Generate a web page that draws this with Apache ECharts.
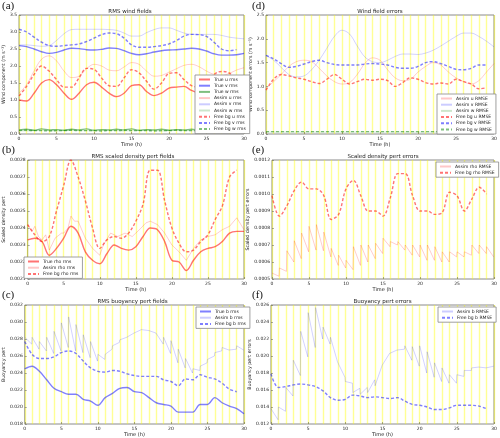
<!DOCTYPE html>
<html><head><meta charset="utf-8">
<script src="https://cdn.jsdelivr.net/npm/echarts@6/dist/echarts.min.js"></script>
<style>html,body{margin:0;padding:0;background:#fff}#c{width:500px;height:438px}</style>
</head><body><div id="c"></div><script>
// ---------- time axes ----------
const hours31 = [0,1,2,3,4,5,6,7,8,9,10,11,12,13,14,15,16,17,18,19,20,21,22,23,24,25,26,27,28,29,30];
const hours30 = [0,1,2,3,4,5,6,7,8,9,10,11,12,13,14,15,16,17,18,19,20,21,22,23,24,25,26,27,28,29];

// ---------- (a) RMS wind fields ----------
const trueU = [1.0,0.97,1.2,1.5,1.6,1.45,1.2,1.02,1.2,1.45,1.52,1.38,1.2,1.1,1.2,1.42,1.45,1.25,1.13,1.2,1.35,1.38,1.4,1.28,1.2,1.18,1.25,1.32,1.3,1.25,1.2];
const trueV = [2.6,2.57,2.5,2.42,2.37,2.4,2.47,2.52,2.51,2.48,2.47,2.49,2.53,2.52,2.45,2.37,2.33,2.36,2.41,2.45,2.47,2.48,2.5,2.52,2.5,2.44,2.36,2.32,2.32,2.33,2.37];
const trueW = [0.12,0.14,0.11,0.15,0.12,0.13,0.11,0.14,0.12,0.15,0.11,0.13,0.12,0.14,0.12,0.15,0.11,0.13,0.12,0.14,0.11,0.13,0.12,0.14,0.12,0.13,0.11,0.14,0.12,0.13,0.12];
const assimU = [1.2,1.45,1.85,2.2,2.3,2.15,1.85,1.66,1.7,1.92,2.05,2.0,1.88,1.86,1.97,2.1,2.05,1.85,1.7,1.72,1.82,1.92,2.02,2.05,1.98,1.85,1.75,1.72,1.78,1.88,1.95];
const assimV = [2.62,2.62,2.6,2.58,2.6,2.75,2.95,3.07,3.08,3.08,3.08,3.08,3.07,3.05,2.97,2.88,2.88,2.98,3.07,3.12,3.12,3.05,2.97,2.93,2.93,2.93,2.93,2.9,2.85,2.82,2.8];
const assimW = [0.1,0.09,0.1,0.11,0.1,0.09,0.1,0.11,0.1,0.1,0.09,0.1,0.11,0.1,0.09,0.1,0.1,0.11,0.1,0.09,0.1,0.11,0.1,0.1,0.09,0.1,0.11,0.1,0.1,0.09,0.1];
const freeU = [1.12,1.4,1.75,2.0,1.85,1.6,1.38,1.38,1.65,1.93,1.9,1.65,1.42,1.4,1.65,1.89,1.8,1.55,1.32,1.5,1.78,1.8,1.6,1.42,1.38,1.5,1.75,1.84,1.8,1.6];
const freeV = [3.08,3.0,2.85,2.7,2.6,2.58,2.6,2.62,2.65,2.72,2.82,2.92,2.97,2.95,2.82,2.62,2.55,2.55,2.57,2.6,2.65,2.75,2.88,2.93,2.92,2.87,2.7,2.5,2.45,2.48];
const freeW = [0.1,0.11,0.1,0.1,0.09,0.1,0.1,0.11,0.1,0.1,0.1,0.09,0.1,0.1,0.11,0.1,0.1,0.1,0.09,0.1,0.1,0.11,0.1,0.1,0.1,0.09,0.1,0.1,0.11,0.1];

// ---------- (d) Wind field errors ----------
const assimUErr = [0.95,1.1,1.25,1.42,1.52,1.55,1.52,1.38,1.22,1.1,1.05,1.08,1.25,1.48,1.6,1.55,1.35,1.18,1.12,1.15,1.3,1.42,1.5,1.45,1.3,1.18,1.1,1.05,1.12,1.3,1.48];
const assimVErr = [1.65,1.55,1.4,1.25,1.2,1.22,1.35,1.55,1.8,2.05,2.18,2.1,1.85,1.62,1.52,1.5,1.55,1.63,1.68,1.68,1.67,1.7,1.76,1.85,1.95,2.05,2.12,2.12,2.05,1.95,1.83];
const assimWErr = [0.04,0.04,0.04,0.04,0.04,0.04,0.04,0.04,0.04,0.04,0.04,0.04,0.04,0.04,0.04,0.04,0.04,0.04,0.04,0.04,0.04,0.04,0.04,0.04,0.04,0.04,0.04,0.04,0.04,0.04,0.04];
const freeUErr = [0.92,1.15,1.25,1.22,1.18,1.15,1.1,1.06,1.15,1.25,1.15,1.05,1.1,1.15,1.13,1.15,1.12,1.0,1.08,1.18,1.15,1.08,1.05,1.07,1.05,1.15,1.1,1.05,0.95,0.97];
const freeVErr = [1.65,1.58,1.48,1.4,1.42,1.47,1.52,1.55,1.5,1.46,1.45,1.45,1.45,1.47,1.48,1.47,1.45,1.4,1.38,1.38,1.42,1.5,1.52,1.48,1.42,1.36,1.35,1.38,1.45,1.45];
const freeWErr = [0.05,0.05,0.05,0.05,0.05,0.05,0.05,0.05,0.05,0.05,0.05,0.05,0.05,0.05,0.05,0.05,0.05,0.05,0.05,0.05,0.05,0.05,0.05,0.05,0.05,0.05,0.05,0.05,0.05,0.05];

// ---------- (b) RMS scaled density pert fields ----------
const trueRho = [0.00233,0.00234,0.00232,0.00224,0.00228,0.00234,0.00241,0.00237,0.00226,0.00221,0.00219,0.00225,0.0023,0.00228,0.00227,0.00229,0.00235,0.0024,0.00239,0.00232,0.00221,0.0022,0.00215,0.00221,0.00226,0.00228,0.00229,0.00232,0.00237,0.00238,0.00238];
const assimRhoT = [0,0.6,1,1.5,2,2.5,3,3.8,4.7,5,5.6,6,6.5,7,8,9,10,10.5,11.5,12.5,13.5,14.5,15.5,16.4,17,18,19,20,21,22,23,24,25,26,27,28,29,30];
const assimRhoV = [0.00242,0.00238,0.00241,0.00235,0.00233,0.00236,0.00227,0.00234,0.00237,0.00237,0.0024,0.00247,0.00244,0.00244,0.00234,0.00228,0.00224,0.0023,0.00237,0.00235,0.00237,0.00235,0.00239,0.00243,0.00244,0.00242,0.00237,0.0023,0.00226,0.00221,0.00228,0.00233,0.00235,0.00236,0.00239,0.00241,0.00246,0.00239];
const freeRho = [0.00242,0.00236,0.00232,0.00235,0.0025,0.00265,0.0028,0.0027,0.00256,0.0024,0.00228,0.00233,0.00235,0.00234,0.00237,0.00244,0.00254,0.00274,0.00274,0.00256,0.0024,0.00231,0.00226,0.00227,0.00232,0.00236,0.00245,0.00253,0.0027,0.00274];

// ---------- (e) Scaled density pert errors ----------
const assimRhoErrPeak = [0.000535,0.000565,0.000666,0.000725,0.00077,0.00081,0.00082,0.000776,0.00068,0.00064,0.00061,0.00069,0.0007,0.0007,0.00071,0.00074,0.00072,0.00072,0.0007,0.0007,0.0007,0.0007,0.00069,0.00066,0.00066,0.00066,0.00066,0.0007,0.0007,0.00069];
const assimRhoErrTrough = [0.000516,0.000545,0.0006,0.00062,0.00066,0.00067,0.000666,0.00063,0.00058,0.000565,0.000555,0.00058,0.0006,0.00062,0.00065,0.00069,0.0007,0.00067,0.00064,0.00063,0.00061,0.00061,0.0006,0.0006,0.00063,0.00063,0.00064,0.00065,0.00065,0.00063];
const freeRhoErr = [0.00099,0.00087,0.00093,0.00102,0.00107,0.00103,0.00103,0.00099,0.00085,0.00088,0.00103,0.00108,0.00099,0.0009,0.0009,0.00087,0.00098,0.00112,0.00112,0.00099,0.0009,0.0009,0.00088,0.00089,0.00101,0.00099,0.0009,0.00097,0.00104,0.001];

// ---------- (c) RMS buoyancy pert fields ----------
const trueB = [0.0245,0.0248,0.0242,0.0232,0.0222,0.0218,0.0215,0.0215,0.0209,0.0207,0.0202,0.0211,0.0216,0.0222,0.0223,0.0218,0.0217,0.0211,0.0205,0.0203,0.0201,0.0194,0.0194,0.0194,0.0203,0.0203,0.0211,0.0205,0.0201,0.0198,0.0192];
const assimBPeak = [0.0282,0.0282,0.0277,0.0282,0.0289,0.0299,0.0306,0.0297,0.0285,0.0277,0.0262,0.0262,0.0272,0.0279,0.0284,0.0289,0.0292,0.029,0.0288,0.0282,0.0278,0.0268,0.0257,0.0245,0.0248,0.0256,0.0264,0.027,0.0269,0.0272];
const assimBTrough = [0.0274,0.0268,0.0266,0.0263,0.0266,0.027,0.0266,0.0264,0.0258,0.0254,0.0256,0.0268,0.0276,0.0282,0.0287,0.0291,0.029,0.0287,0.0274,0.0263,0.0252,0.0246,0.024,0.0243,0.0252,0.026,0.0266,0.0267,0.0268,0.0267];
const freeB = [0.0277,0.0262,0.0257,0.0257,0.0259,0.0264,0.0266,0.0263,0.0254,0.0246,0.0242,0.0241,0.0243,0.0242,0.0239,0.0237,0.0236,0.0236,0.0236,0.0232,0.023,0.0225,0.0233,0.0232,0.0238,0.0235,0.0233,0.0228,0.0221,0.0218];

// ---------- (f) Buoyancy pert errors ----------
const assimBErrPeak = [0.0138,0.014,0.0163,0.0195,0.0229,0.0251,0.0257,0.0234,0.0222,0.0195,0.017,0.0157,0.0155,0.0157,0.0165,0.0187,0.0203,0.0206,0.0212,0.0211,0.0212,0.0205,0.0192,0.0186,0.0178,0.0178,0.0183,0.0186,0.0189,0.0185];
const assimBErrTrough = [0.0125,0.0135,0.0153,0.0177,0.0199,0.021,0.022,0.0214,0.0193,0.0175,0.0168,0.0162,0.0163,0.0172,0.0189,0.0203,0.0207,0.0208,0.0195,0.0188,0.018,0.0175,0.017,0.0168,0.0168,0.0176,0.0183,0.0187,0.0186,0.0188];
const freeBErr = [0.0179,0.0163,0.0164,0.0166,0.0167,0.0166,0.0164,0.0159,0.0151,0.0148,0.0149,0.0154,0.0153,0.0151,0.0152,0.0151,0.015,0.0151,0.0147,0.0143,0.0142,0.014,0.0137,0.0137,0.0139,0.0142,0.0142,0.0142,0.0141,0.0138];

// ---------- helpers ----------
function pts(t, v) { return v.map((y, i) => [t[i], y]); }
function saw(peaks, troughs) {
  const out = [];
  for (let k = 0; k < peaks.length; k++) {
    out.push([hours30[k], peaks[k]]);
    out.push([hours30[k] + 0.95, troughs[k]]);
  }
  return out;
}

const RED_T = 'rgba(255,0,0,0.55)', BLUE_T = 'rgba(0,0,255,0.5)', GREEN_T = 'rgba(0,128,0,0.5)';
const RED_A = 'rgba(255,0,0,0.22)', BLUE_A = 'rgba(0,0,255,0.2)', GREEN_A = 'rgba(0,128,0,0.2)';

function line(name, data, gi, color, kind, smooth) {
  const style = kind === 'true' ? {width: 1.4, color} :
                kind === 'assim' ? {width: 0.9, color} :
                {width: 1.4, color, type: [3, 2]};
  return {
    type: 'line', name, data, xAxisIndex: gi, yAxisIndex: gi,
    symbol: 'none', smooth: smooth === undefined ? 0.35 : smooth,
    lineStyle: style, itemStyle: {color}, animation: false, silent: true
  };
}

const grids = [
  {left: 16, top: 15, width: 228, height: 119},   // a
  {left: 22, top: 160, width: 222, height: 119},  // b
  {left: 21, top: 305, width: 223, height: 119},  // c
  {left: 266, top: 15, width: 228, height: 119},  // d
  {left: 272, top: 160, width: 222, height: 119}, // e
  {left: 271, top: 305, width: 223, height: 119}  // f
].map(g => Object.assign({show: true, borderColor: '#8a8a8a', borderWidth: 1, backgroundColor: '#fff'}, g));

const yDefs = [
  {min: 0, max: 3.5, interval: 0.5, dec: 1, name: 'Wind component (m s\u207B\u00B9)', gap: 11},
  {min: 0.0021, max: 0.0028, interval: 0.0001, dec: 4, name: 'Scaled density pert', gap: 17},
  {min: 0.018, max: 0.032, interval: 0.002, dec: 3, name: 'Buoyancy pert', gap: 15},
  {min: 0, max: 2.5, interval: 0.5, dec: 1, name: 'Wind component errors (m s\u207B\u00B9)', gap: 11},
  {min: 0.0005, max: 0.0012, interval: 0.0001, dec: 4, name: 'Scaled density pert errors', gap: 17},
  {min: 0.012, max: 0.026, interval: 0.002, dec: 3, name: 'Buoyancy pert errors', gap: 15}
];

const FONT = 'DejaVu Sans';
const YEL = 'rgba(255,255,0,0.42)';
const xAxes = grids.map((g, i) => ({
  type: 'value', gridIndex: i, min: 0, max: 30, interval: 5,
  name: 'Time (h)', nameLocation: 'middle', nameGap: 8,
  nameTextStyle: {fontSize: 5, fontFamily: FONT, color: '#222'},
  axisLine: {show: false},
  axisTick: {show: true, inside: true, length: 2, lineStyle: {color: '#555', width: 0.5}},
  axisLabel: {fontSize: 4.5, fontFamily: FONT, color: '#222', margin: 2},
  splitLine: {show: true, lineStyle: {color: YEL, width: 1.4}},
  minorTick: {show: false, splitNumber: 5},
  minorSplitLine: {show: true, lineStyle: {color: YEL, width: 1.4}}
}));

const yAxes = yDefs.map((d, i) => ({
  type: 'value', gridIndex: i, min: d.min, max: d.max, interval: d.interval,
  name: d.name, nameLocation: 'middle', nameGap: d.gap, nameRotate: 90,
  nameTextStyle: {fontSize: 4.8, fontFamily: FONT, color: '#222'},
  axisLine: {show: false},
  axisTick: {show: true, inside: true, length: 2, lineStyle: {color: '#555', width: 0.5}},
  axisLabel: {fontSize: 4.5, fontFamily: FONT, color: '#222', margin: 2,
              formatter: v => Number(v).toFixed(d.dec)},
  splitLine: {show: false}
}));

const titleDefs = [
  ['RMS wind fields', 130, 9, '(a)', 2, 1],
  ['RMS scaled density pert fields', 133, 154, '(b)', 2, 145],
  ['RMS buoyancy pert fields', 132.5, 299, '(c)', 2, 290],
  ['Wind field errors', 380, 9, '(d)', 252, 1],
  ['Scaled density pert errors', 383, 154, '(e)', 252, 145],
  ['Buoyancy pert errors', 382.5, 299, '(f)', 252, 290]
];
const titles = [];
titleDefs.forEach(t => {
  titles.push({text: t[0], left: t[1], top: t[2], textAlign: 'center', padding: 0,
               textStyle: {fontSize: 5.5, fontWeight: 'normal', fontFamily: FONT, color: '#222'}});
  titles.push({text: t[3], left: t[4], top: t[5], padding: 0,
               textStyle: {fontSize: 11, fontWeight: 'normal', fontFamily: 'Liberation Serif', color: '#111'}});
});

function legend(names, left, top) {
  return {
    data: names, left, top, orient: 'vertical', backgroundColor: '#fff',
    borderColor: '#888', borderWidth: 0.8, padding: [2, 4, 2, 3],
    itemWidth: 11, itemHeight: 5, itemGap: 1.2, selectedMode: false,
    itemStyle: {opacity: 0},
    textStyle: {fontSize: 4.5, fontFamily: FONT, color: '#222', padding: [0, 0, 0, -1]}
  };
}

const series = [
  // (a)
  line('True u rms', pts(hours31, trueU), 0, RED_T, 'true'),
  line('True v rms', pts(hours31, trueV), 0, BLUE_T, 'true'),
  line('True w rms', pts(hours31, trueW), 0, GREEN_T, 'true'),
  line('Assim u rms', pts(hours31, assimU), 0, RED_A, 'assim'),
  line('Assim v rms', pts(hours31, assimV), 0, BLUE_A, 'assim'),
  line('Assim w rms', pts(hours31, assimW), 0, GREEN_A, 'assim'),
  line('Free bg u rms', pts(hours30, freeU), 0, RED_T, 'free'),
  line('Free bg v rms', pts(hours30, freeV), 0, BLUE_T, 'free'),
  line('Free bg w rms', pts(hours30, freeW), 0, GREEN_T, 'free'),
  // (b)
  line('True rho rms', pts(hours31, trueRho), 1, RED_T, 'true'),
  line('Assim rho rms', pts(assimRhoT, assimRhoV), 1, RED_A, 'assim', false),
  line('Free bg rho rms', pts(hours30, freeRho), 1, RED_T, 'free'),
  // (c)
  line('True b rms', pts(hours31, trueB), 2, BLUE_T, 'true'),
  line('Assim b rms', saw(assimBPeak, assimBTrough), 2, BLUE_A, 'assim', false),
  line('Free bg b rms', pts(hours30, freeB), 2, BLUE_T, 'free'),
  // (d)
  line('Assim u RMSE', pts(hours31, assimUErr), 3, RED_A, 'assim'),
  line('Assim v RMSE', pts(hours31, assimVErr), 3, BLUE_A, 'assim'),
  line('Assim w RMSE', pts(hours31, assimWErr), 3, GREEN_A, 'assim'),
  line('Free bg u RMSE', pts(hours30, freeUErr), 3, RED_T, 'free'),
  line('Free bg v RMSE', pts(hours30, freeVErr), 3, BLUE_T, 'free'),
  line('Free bg w RMSE', pts(hours30, freeWErr), 3, GREEN_T, 'free'),
  // (e)
  line('Assim rho RMSE', saw(assimRhoErrPeak, assimRhoErrTrough), 4, RED_A, 'assim', false),
  line('Free bg rho RMSE', pts(hours30, freeRhoErr), 4, RED_T, 'free'),
  // (f)
  line('Assim b RMSE', saw(assimBErrPeak, assimBErrTrough), 5, BLUE_A, 'assim', false),
  line('Free bg b RMSE', pts(hours30, freeBErr), 5, BLUE_T, 'free')
];

const option = {
  backgroundColor: '#fff',
  animation: false,
  title: titles,
  grid: grids,
  xAxis: xAxes,
  yAxis: yAxes,
  legend: [
    legend(['True u rms','True v rms','True w rms','Assim u rms','Assim v rms','Assim w rms','Free bg u rms','Free bg v rms','Free bg w rms'], 195, 75),
    legend(['True rho rms','Assim rho rms','Free bg rho rms'], 24, 257),
    legend(['True b rms','Assim b rms','Free bg b rms'], 196, 307),
    legend(['Assim u RMSE','Assim v RMSE','Assim w RMSE','Free bg u RMSE','Free bg v RMSE','Free bg w RMSE'], 437, 94),
    legend(['Assim rho RMSE','Free bg rho RMSE'], 436, 162),
    legend(['Assim b RMSE','Free bg b RMSE'], 438, 307)
  ],
  series
};

const chart = echarts.init(document.getElementById('c'), null, {renderer: 'canvas'});
chart.setOption(option);
</script></body></html>
